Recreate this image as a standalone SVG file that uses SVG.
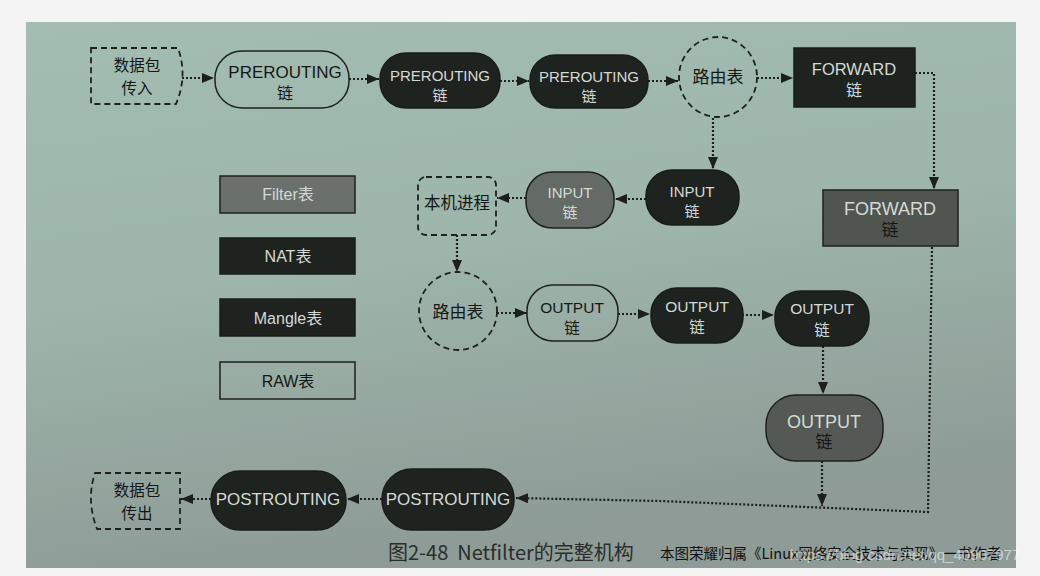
<svg xmlns="http://www.w3.org/2000/svg" width="1040" height="576" viewBox="0 0 1040 576">
<defs>
<linearGradient id="bg" x1="0" y1="0" x2="0.25" y2="1">
<stop offset="0" stop-color="#a3bdb2"/>
<stop offset="0.5" stop-color="#9db5ab"/>
<stop offset="1" stop-color="#8e9b96"/>
</linearGradient>
<marker id="ah" markerUnits="userSpaceOnUse" markerWidth="13" markerHeight="10" refX="12" refY="5" orient="auto">
<path d="M0,0 L12,5 L0,10 Z" fill="#1c1f1d"/>
</marker>
<style>
text{font-family:"Liberation Sans","Noto Sans CJK SC",sans-serif;text-anchor:middle}
.cn{font-family:"Noto Sans CJK SC",sans-serif}
.dark{fill:#1f2320;stroke:#1a1c1a;stroke-width:1.5}
.gray{fill:#5a5f5b;stroke:#1f211f;stroke-width:1.5}
.plain{fill:none;stroke:#1f211f;stroke-width:1.5}
.dash{fill:none;stroke:#1f211f;stroke-width:1.8;stroke-dasharray:6,4}
.lt{fill:#d3dad5}
.bk{fill:#151715}
.conn path{fill:none;stroke:#1c1f1d;stroke-width:2.2;stroke-dasharray:2,2;marker-end:url(#ah)}
</style>
</defs>
<rect x="0" y="0" width="1040" height="576" fill="#f4f4f4"/>
<rect x="26" y="22" width="990" height="546" fill="url(#bg)"/>

<g class="conn">
<path d="M182,78 H214"/>
<path d="M349,79 H379"/>
<path d="M500,81 H529"/>
<path d="M648,81 H678"/>
<path d="M757,78 H793"/>
<path d="M915,73 H934 V189"/>
<path d="M713,118 V169"/>
<path d="M646,199 H615"/>
<path d="M526,198 H497"/>
<path d="M457,235 V272"/>
<path d="M497,313 H527"/>
<path d="M618,314 H650"/>
<path d="M742,315 H774"/>
<path d="M823,346 V394"/>
<path d="M822,461 V506"/>
<path d="M932,247 L928,512 L660,501 L516,498"/>
<path d="M382,499 H347"/>
<path d="M211,499 H181"/>
</g>

<g id="pkt-in">
<path class="dash" d="M91,48 L178,48 Q188,76 176,104 L91,104 Z"/>
<text class="cn bk" x="137" y="71" font-size="15.5">数据包</text>
<text class="cn bk" x="137" y="94" font-size="15.5">传入</text>
</g>
<g id="pre-raw">
<rect class="plain" x="215" y="51" width="134" height="57" rx="27"/>
<text class="bk" x="285" y="78" font-size="17">PREROUTING</text>
<text class="bk" x="285" y="99" font-size="16">链</text>
</g>
<g id="pre-mangle">
<rect class="dark" x="380" y="53" width="120" height="55" rx="26"/>
<text class="lt" x="440" y="80.5" font-size="15">PREROUTING</text>
<text class="lt" x="440" y="101" font-size="15">链</text>
</g>
<g id="pre-nat">
<rect class="dark" x="530" y="55" width="118" height="53" rx="25"/>
<text class="lt" x="589" y="81.5" font-size="15">PREROUTING</text>
<text class="lt" x="589" y="102" font-size="15">链</text>
</g>
<g id="route1">
<ellipse class="dash" cx="718" cy="77" rx="39" ry="40"/>
<text class="cn bk" x="718" y="83" font-size="17">路由表</text>
</g>
<g id="fwd-mangle">
<rect class="dark" x="794" y="48" width="121" height="59"/>
<text class="lt" x="854" y="75" font-size="16.5">FORWARD</text>
<text class="lt" x="854" y="96" font-size="16">链</text>
</g>
<g id="fwd-filter">
<rect class="gray" x="823" y="190" width="135" height="56" style="fill:#50554f"/>
<text class="lt" x="890" y="214.5" font-size="18">FORWARD</text>
<text class="bk" x="890" y="236" font-size="17">链</text>
</g>
<g id="in-mangle">
<rect class="dark" x="646" y="170" width="93" height="55" rx="26"/>
<text class="lt" x="692" y="196.5" font-size="15">INPUT</text>
<text class="lt" x="692" y="217" font-size="15">链</text>
</g>
<g id="in-filter">
<rect class="gray" x="526" y="172" width="88" height="56" rx="26" style="fill:#646a65"/>
<text class="lt" x="570" y="197.5" font-size="15">INPUT</text>
<text class="lt" x="570" y="218" font-size="15">链</text>
</g>
<g id="local">
<rect class="dash" x="418" y="177" width="78" height="58" rx="8"/>
<text class="cn bk" x="457" y="209" font-size="16.5">本机进程</text>
</g>
<g id="route2">
<ellipse class="dash" cx="458" cy="311" rx="39" ry="39"/>
<text class="cn bk" x="458" y="318" font-size="17">路由表</text>
</g>
<g id="out-raw">
<rect class="plain" x="527" y="285" width="91" height="56" rx="26"/>
<text class="bk" x="572" y="312.5" font-size="15.5">OUTPUT</text>
<text class="bk" x="572" y="334" font-size="15.5">链</text>
</g>
<g id="out-mangle">
<rect class="dark" x="651" y="288" width="92" height="55" rx="26"/>
<text class="lt" x="697" y="311.5" font-size="15.5">OUTPUT</text>
<text class="lt" x="697" y="333" font-size="15.5">链</text>
</g>
<g id="out-nat">
<rect class="dark" x="775" y="291" width="94" height="55" rx="26"/>
<text class="lt" x="822" y="313.5" font-size="15.5">OUTPUT</text>
<text class="lt" x="822" y="336" font-size="15.5">链</text>
</g>
<g id="out-filter">
<rect class="gray" x="766" y="395" width="117" height="66" rx="30" style="fill:#545955"/>
<text class="lt" x="824" y="427.5" font-size="18">OUTPUT</text>
<text class="bk" x="824" y="448" font-size="17">链</text>
</g>
<g id="post-mangle">
<rect class="dark" x="382" y="469" width="132" height="61" rx="30"/>
<text class="lt" x="448" y="505" font-size="17">POSTROUTING</text>
</g>
<g id="post-nat">
<rect class="dark" x="211" y="471" width="135" height="59" rx="29"/>
<text class="lt" x="278" y="505" font-size="17">POSTROUTING</text>
</g>
<g id="pkt-out">
<path class="dash" d="M95,473 L180,473 L180,529 L97,529 Q86,500 95,473 Z"/>
<text class="cn bk" x="137" y="496" font-size="15.5">数据包</text>
<text class="cn bk" x="137" y="519" font-size="15.5">传出</text>
</g>

<g id="legend-filter">
<rect class="gray" x="220" y="176" width="135" height="37" style="fill:#6a706b"/>
<text class="lt" x="288" y="199.5" font-size="16">Filter表</text>
</g>
<g id="legend-nat">
<rect class="dark" x="220" y="238" width="135" height="36"/>
<text class="lt" x="288" y="261.5" font-size="16">NAT表</text>
</g>
<g id="legend-mangle">
<rect class="dark" x="220" y="299" width="135" height="37"/>
<text class="lt" x="288" y="323.5" font-size="16">Mangle表</text>
</g>
<g id="legend-raw">
<rect class="plain" x="220" y="362" width="135" height="37"/>
<text class="bk" x="288" y="386.5" font-size="16">RAW表</text>
</g>

<text class="cn" x="388" y="560" font-size="20" fill="#2a2e2c" style="text-anchor:start;white-space:pre" xml:space="preserve">图2-48  Netfilter的完整机构</text>
<text class="cn" x="660" y="559" font-size="14.5" fill="#111111" style="text-anchor:start">本图荣耀归属《Linux网络安全技术与实现》一书作者</text>
<text x="790" y="560" font-size="15" fill="#ffffff" fill-opacity="0.55" style="text-anchor:start">https://blog.csdn.net/qq_40907977</text>
</svg>
